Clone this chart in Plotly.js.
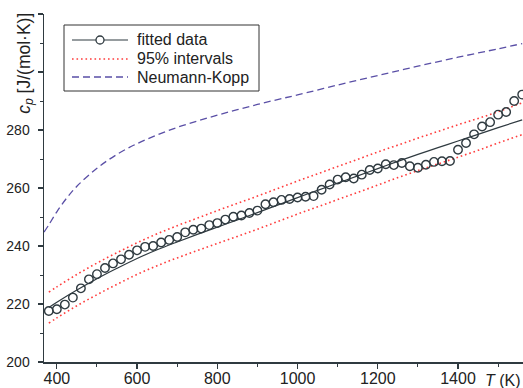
<!DOCTYPE html>
<html>
<head>
<meta charset="utf-8">
<script src="https://cdn.plot.ly/plotly-3.0.1.min.js"></script>
<style>html,body{margin:0;padding:0;background:#fff;}#chart{width:523px;height:388px;}</style>
</head>
<body>
<div id="chart"></div>
<script>
// Measured data points (T in K, cp in J/(mol K))
var dataT = [380,400,420,440,460,480,500,520,540,560,580,600,620,640,660,680,700,720,740,760,780,800,820,840,860,880,900,920,940,960,980,1000,1020,1040,1060,1080,1100,1120,1140,1160,1180,1200,1220,1240,1260,1280,1300,1320,1340,1360,1380,1400,1420,1440,1460,1480,1500,1520,1540,1560];
var dataCp = [217.6,218.2,219.8,222.2,225.4,228.5,230.3,232.4,234.0,235.4,237.0,238.5,239.7,240.0,241.2,242.1,243.1,244.7,245.6,246.0,247.2,247.9,249.1,250.1,250.5,251.4,252.2,254.4,255.1,255.9,256.2,256.7,257.0,257.2,259.4,261.2,262.9,263.7,263.3,264.6,266.2,266.7,268.2,267.9,268.6,267.5,267.0,268.0,269.0,269.2,269.3,273.2,275.5,278.5,281.2,282.7,285.3,286.2,290.0,292.2];

// Fitted curve and 95% interval bounds
var fitT = [380,400,450,500,550,600,650,700,750,800,850,900,950,1000,1050,1100,1150,1200,1250,1300,1350,1400,1450,1500,1560];
var fitCp = [218.8,220.6,224.8,228.7,232.3,235.7,238.7,241.4,244.0,246.5,249.0,251.5,254.1,256.7,259.2,261.7,264.2,266.7,269.2,271.6,273.9,276.2,278.5,280.8,283.5];
var upperCp = [224.1,225.9,230.2,234.1,237.7,241.1,244.2,247.0,249.6,252.2,254.7,257.2,259.8,262.4,264.9,267.4,269.9,272.4,274.8,277.2,279.5,281.8,284.0,286.3,289.4];
var lowerCp = [213.4,215.2,219.4,223.2,226.8,230.2,233.2,235.9,238.4,240.9,243.3,245.8,248.4,251.0,253.5,256.0,258.5,261.0,263.6,266.0,268.3,270.6,273.0,275.5,278.4];

// Neumann-Kopp estimate
var nkT = [368,380,400,425,450,500,550,600,650,700,750,800,850,900,950,1000,1100,1200,1300,1400,1500,1560];
var nkCp = [244.8,247.3,251.8,256.6,260.6,266.8,271.6,275.3,278.3,280.9,283.1,285.1,287.0,288.8,290.5,292.1,295.5,298.8,302.0,305.1,308.0,309.8];

var xTicks = [400,600,800,1000,1200,1400];
var yTicks = [200,220,240,260,280,300,320];
var yTickText = ['200','220','240','260','280',' ',' '];
var legendLabels = ['fitted data', '95% intervals', 'Neumann-Kopp'];

var fontFam = '"Liberation Sans", Arial, Helvetica, sans-serif';
var ink = '#2f3a40';
var red = '#ff3c3c';
var blue = '#5a4fa6';
var redLine = {color: red, width: 1.6, dash: '1.6px,2.9px', shape: 'spline', smoothing: 1};
var blueLine = {color: blue, width: 1.3, dash: '7px,4px', shape: 'spline', smoothing: 1};
var inkLine = {color: ink, width: 1.2, shape: 'spline', smoothing: 1};

var traces = [
  {x: fitT, y: upperCp, mode: 'lines', name: legendLabels[1], line: redLine},
  {x: fitT, y: lowerCp, mode: 'lines', name: legendLabels[1], line: redLine},
  {x: nkT, y: nkCp, mode: 'lines', name: legendLabels[2], line: blueLine},
  {x: fitT, y: fitCp, mode: 'lines', name: legendLabels[0], line: inkLine},
  {x: dataT, y: dataCp, mode: 'markers', name: legendLabels[0],
   marker: {symbol: 'circle-open', size: 8.5, color: ink, line: {width: 1.4, color: ink}}}
];

// Legend box drawn in pixel-derived paper coordinates
var W = 523, H = 388, mL = 44, mR = 0, mT = 14, mB = 26;
var pw = W - mL - mR, ph = H - mT - mB;
function px(x) { return (x - mL) / pw; }
function py(y) { return (H - mB - y) / ph; }

var legRows = [40, 59, 77];
var shapes = [
  {type: 'rect', xref: 'paper', yref: 'paper', x0: px(64), x1: px(259), y0: py(91), y1: py(25),
   line: {color: '#333', width: 1}, fillcolor: '#fff', layer: 'above'},
  {type: 'line', xref: 'paper', yref: 'paper', x0: px(72), x1: px(128), y0: py(legRows[0]), y1: py(legRows[0]),
   line: {color: ink, width: 1.2}, layer: 'above'},
  {type: 'circle', xref: 'paper', yref: 'paper', x0: px(96), x1: px(104), y0: py(legRows[0] + 4), y1: py(legRows[0] - 4),
   line: {color: ink, width: 1.3}, fillcolor: '#fff', layer: 'above'},
  {type: 'line', xref: 'paper', yref: 'paper', x0: px(72), x1: px(128), y0: py(legRows[1]), y1: py(legRows[1]),
   line: {color: red, width: 1.6, dash: '1.6px,2.9px'}, layer: 'above'},
  {type: 'line', xref: 'paper', yref: 'paper', x0: px(72), x1: px(128), y0: py(legRows[2]), y1: py(legRows[2]),
   line: {color: blue, width: 1.3, dash: '7px,4px'}, layer: 'above'}
];

var annotations = [
  {xref: 'paper', yref: 'paper', x: -0.04, y: 1.01, xanchor: 'center', yanchor: 'top',
   textangle: -90, showarrow: false,
   text: '<i>c</i><sub><i>p</i></sub> [J/(mol·K)]',
   font: {family: fontFam, size: 17.5, color: '#222'}},
  {xref: 'paper', yref: 'paper', x: 1.0, y: py(381), xanchor: 'right', yanchor: 'middle',
   showarrow: false, text: '<i>T</i> (K)',
   font: {family: fontFam, size: 16, color: '#222'}}
];
legendLabels.forEach(function (lab, i) {
  annotations.push({xref: 'paper', yref: 'paper', x: px(135), y: py(legRows[i]), xanchor: 'left', yanchor: 'middle',
    showarrow: false, text: lab, font: {family: fontFam, size: 16, color: '#222'}});
});

var layout = {
  width: W, height: H,
  margin: {l: mL, r: mR, t: mT, b: mB, pad: 0},
  paper_bgcolor: '#fff', plot_bgcolor: '#fff',
  font: {family: fontFam, color: '#222', size: 14},
  showlegend: false,
  xaxis: {
    range: [368, 1562], showgrid: false, zeroline: false,
    showline: true, linecolor: ink, linewidth: 1.5,
    ticks: 'outside', ticklen: 5, tickwidth: 1.2, tickcolor: ink,
    tickvals: xTicks, tickfont: {size: 16, color: '#222'},
    ticklabelstandoff: -4,
    minor: {dtick: 100, tick0: 0, ticks: 'outside', ticklen: 3, tickwidth: 1, tickcolor: ink, showgrid: false}
  },
  yaxis: {
    range: [200, 320], showgrid: false, zeroline: false,
    showline: true, linecolor: ink, linewidth: 1.5,
    ticks: 'outside', ticklen: 5, tickwidth: 1.2, tickcolor: ink,
    tickvals: yTicks, ticktext: yTickText, tickfont: {size: 14, color: '#222'},
    ticklabelstandoff: 5,
    minor: {dtick: 10, tick0: 0, ticks: 'outside', ticklen: 3, tickwidth: 1, tickcolor: ink, showgrid: false}
  },
  shapes: shapes,
  annotations: annotations
};

Plotly.newPlot('chart', traces, layout, {displayModeBar: false, staticPlot: true});
</script>
</body>
</html>
